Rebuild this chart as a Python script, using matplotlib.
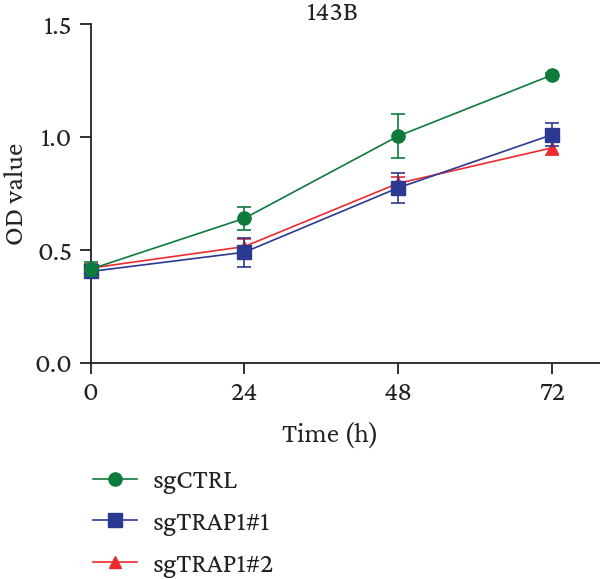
import numpy as np
import matplotlib.pyplot as plt

plt.rcParams['font.family'] = ['Crimson Pro', 'Crimson Text', 'Liberation Serif', 'DejaVu Serif']

# time points (h)
time = [0, 24, 48, 72]

# OD values
ctrl = [0.415, 0.64, 1.004, 1.274]
ctrl_err = [0.03, 0.05, 0.097, 0.01]
trap1 = [0.405, 0.49, 0.775, 1.01]
trap1_err = [0.025, 0.065, 0.066, 0.052]
trap2 = [0.42, 0.515, 0.795, 0.952]
trap2_err = [0.02, 0.035, 0.03, 0.03]

labels = ['sgCTRL', 'sgTRAP1#1', 'sgTRAP1#2']
colors = ['#0e7a3c', '#2b3990', '#ee2a2f']
markers = ['o', 's', '^']
msizes = [9.5, 9.5, 8]

FS = 20
fig = plt.figure(figsize=(6, 5.79), dpi=100)
W, H = 600, 579
ax = fig.add_axes([90.5 / W, (H - 363) / H, (W - 90.5) / W, (363 - 24) / H])

series = [ctrl, trap1, trap2]
errs = [ctrl_err, trap1_err, trap2_err]
handles = [None] * 3
# draw red first, green last so green sits on top
for i in [2, 1, 0]:
    ax.errorbar(time, series[i], yerr=errs[i], fmt='none', ecolor=colors[i],
                elinewidth=1.2, capsize=5, capthick=1.2, clip_on=False,
                zorder=3 + (2 - i))
    ln, = ax.plot(time, series[i], color=colors[i], marker=markers[i],
                  markersize=msizes[i], linewidth=1.2, clip_on=False,
                  zorder=3 + (2 - i))
    handles[i] = ln

ax.set_xlim(0, 79.5)
ax.set_ylim(0, 1.5)
ax.set_xticks(time)
ax.set_yticks([0.0, 0.5, 1.0, 1.5])
ax.set_yticklabels(['0.0', '0.5', '1.0', '1.5'])
ax.spines['top'].set_visible(False)
ax.spines['right'].set_visible(False)
for s in ['left', 'bottom']:
    ax.spines[s].set_linewidth(1.3)
    ax.spines[s].set_color('#222222')
ax.tick_params(axis='both', direction='out', length=8, width=1.3,
               color='#222222', labelsize=FS, pad=5, labelcolor='#222222')

ax.set_ylabel('OD value', fontsize=FS, color='#222222', labelpad=4)
fig.text(330 / W, 1 - 436 / H, 'Time (h)', fontsize=FS, ha='center', va='center',
         color='#222222')
fig.text(333 / W, 1 - 14 / H, '143B', fontsize=FS, ha='center', va='center',
         color='#222222')

leg = fig.legend(handles, labels, loc='upper left',
                 bbox_to_anchor=(93 / W, 1 - 469 / H), frameon=False,
                 fontsize=FS, handlelength=1.6, handletextpad=0.56,
                 labelspacing=0.58, borderaxespad=0, borderpad=0)
for t in leg.get_texts():
    t.set_color('#222222')

fig.savefig('out.png', dpi=100)
